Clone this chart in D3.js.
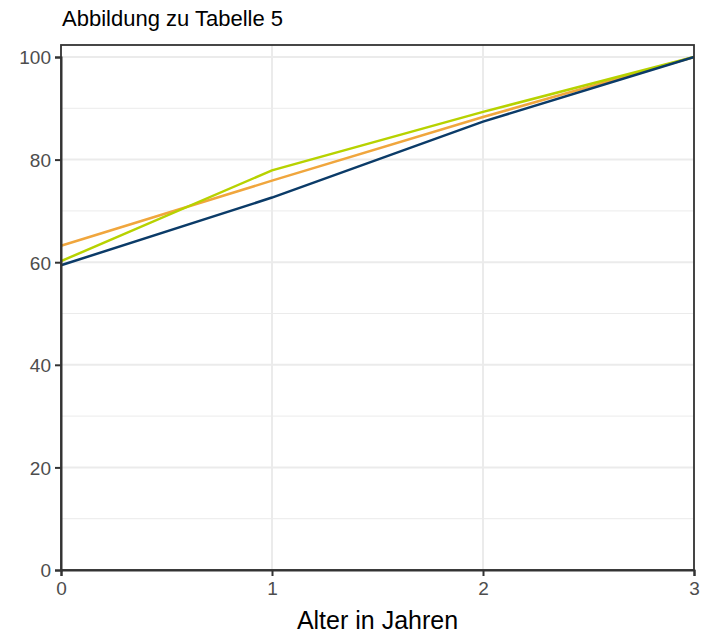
<!DOCTYPE html>
<html><head><meta charset="utf-8">
<script src="https://cdn.jsdelivr.net/npm/d3@7"></script>
<style>body{margin:0;background:#fff}svg{display:block;font-family:"Liberation Sans",Arial,sans-serif}</style>
</head><body><svg id="c" width="703" height="634"></svg>
<script>
const ages = [0, 1, 2, 3];
const seriesBlue = [59.4, 72.6, 87.4, 100];
const seriesGreen = [60.2, 77.9, 89.3, 100];
const seriesOrange = [63.2, 75.9, 88.3, 100];
const yTicks = [0, 20, 40, 60, 80, 100];
const yMinor = [10, 30, 50, 70, 90];
const xTicks = [0, 1, 2, 3];
const series = [
  {name: "orange", values: seriesOrange, color: "#f0a63d"},
  {name: "green", values: seriesGreen, color: "#b7d200"},
  {name: "blue", values: seriesBlue, color: "#0b3b68"}
];
const svg = d3.select("#c");
const L = 61, R = 694, T = 45, B = 570;
const x = d3.scaleLinear().domain([0, 3]).range([L, R]);
const y = d3.scaleLinear().domain([0, 100]).range([B, 57]);
const g = svg.append("g");
// minor grid
g.selectAll(".ymin").data(yMinor).join("line")
  .attr("x1", L).attr("x2", R).attr("y1", d => y(d)).attr("y2", d => y(d))
  .attr("stroke", "#ebebeb").attr("stroke-width", 1);
// major grid
g.selectAll(".ymaj").data(yTicks).join("line")
  .attr("x1", L).attr("x2", R).attr("y1", d => y(d)).attr("y2", d => y(d))
  .attr("stroke", "#ebebeb").attr("stroke-width", 2);
g.selectAll(".xmaj").data(xTicks).join("line")
  .attr("y1", T).attr("y2", B).attr("x1", d => x(d)).attr("x2", d => x(d))
  .attr("stroke", "#ebebeb").attr("stroke-width", 2);
// lines
const line = d3.line().x((d, i) => x(ages[i])).y(d => y(d));
series.forEach(s => {
  g.append("path").attr("d", line(s.values)).attr("fill", "none")
    .attr("stroke", s.color).attr("stroke-width", 2.5);
});
// border
g.append("rect").attr("x", L).attr("y", T).attr("width", R - L).attr("height", B - T)
  .attr("fill", "none").attr("stroke", "#333333").attr("stroke-width", 1.8);
// axes
const xa = svg.append("g").attr("transform", `translate(0,${B})`)
  .call(d3.axisBottom(x).tickValues(xTicks).tickFormat(d3.format("d")).tickSize(6).tickPadding(6));
const ya = svg.append("g").attr("transform", `translate(${L},0)`)
  .call(d3.axisLeft(y).tickValues(yTicks).tickSize(6).tickPadding(4));
[xa, ya].forEach(a => {
  a.select(".domain").attr("stroke", "#333333").attr("stroke-width", 2);
  a.selectAll(".tick line").attr("stroke", "#333333").attr("stroke-width", 2);
  a.selectAll("text").attr("fill", "#4d4d4d").attr("font-size", 19)
    .attr("font-family", '"Liberation Sans",Arial,sans-serif');
});
ya.selectAll("text").attr("dy", "0.36em");
svg.append("text").attr("x", 62).attr("y", 26).attr("font-size", 22).attr("fill", "#000")
  .text("Abbildung zu Tabelle 5");
svg.append("text").attr("x", (L + R) / 2).attr("y", 629).attr("text-anchor", "middle")
  .attr("font-size", 25).attr("fill", "#000").text("Alter in Jahren");
</script></body></html>
